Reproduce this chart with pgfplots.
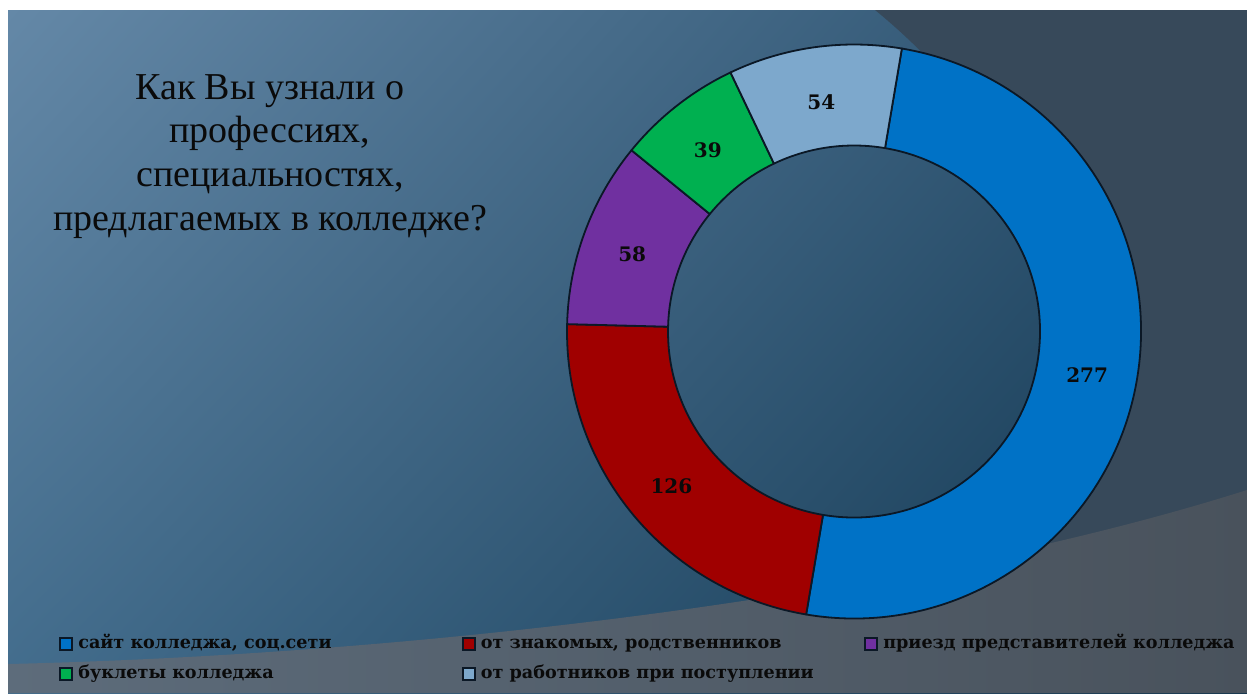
\documentclass[border=0pt]{standalone}
\usepackage{pgfplots}
\usepackage{pgfplotstable}
\pgfplotsset{compat=1.18}
\usetikzlibrary{shadings}
\usepackage{fontspec}
\setmainfont{Liberation Serif}
\newfontfamily\djs{DejaVu Serif}

\definecolor{cBlue}{HTML}{0072C6}
\definecolor{cRed}{HTML}{A00000}
\definecolor{cPurple}{HTML}{7030A0}
\definecolor{cGreen}{HTML}{00B050}
\definecolor{cLight}{HTML}{7DA8CC}
\definecolor{cEdge}{HTML}{0B1826}
\definecolor{bgUL}{HTML}{6488A7}
\definecolor{bgUR}{HTML}{294F6C}
\definecolor{bgLL}{HTML}{426C8C}
\definecolor{bgLR}{HTML}{10344D}
\definecolor{bgDark}{HTML}{37495A}
\definecolor{bandL}{HTML}{5D6C7B}
\definecolor{bandR}{HTML}{49525C}
\definecolor{txt}{HTML}{0A0A0A}

\pgfplotstableread{
value color
277 cBlue
126 cRed
58 cPurple
39 cGreen
54 cLight
}\donutdata

\newcommand\lblfont{\djs\fontsize{10}{12}\selectfont\bfseries}
\newcommand\legfont{\djs\fontsize{8.8}{10}\selectfont\bfseries}

\begin{document}
\begin{tikzpicture}
\begin{axis}[
  hide axis, scale only axis,
  width=623.5pt, height=346.5pt,
  xmin=0, xmax=1247, ymin=-693, ymax=0,
  clip=false,
  legend columns=3,
  legend cell align=left,
  legend image code/.code={\path[draw=none, fill=none] (0pt,0pt) -- (8.2pt,0pt);
    \draw[#1, draw=cEdge, line width=0.9pt] (0pt,-3pt) rectangle (6pt,3pt);},
  legend style={at={(axis cs:53,-629)}, anchor=north west, draw=none, fill=none,
    font=\legfont, text=txt, row sep=4.3pt,
    nodes={inner sep=0.8pt, text height=1.5ex, text depth=0.45ex},
    /tikz/every even column/.append style={column sep=0pt}},
]
% background
\fill[white] (axis cs:0,-693) rectangle (axis cs:1247,0);
\shade[upper left=bgUL, upper right=bgUR, lower left=bgLL, lower right=bgLR]
  (axis cs:8,-693) rectangle (axis cs:1247,-10);
\fill[bgDark] (axis cs:875,-10) .. controls (axis cs:1010,-120) and (axis cs:1110,-300) .. (axis cs:1060,-480)
  -- (axis cs:960,-693) -- (axis cs:1247,-693) -- (axis cs:1247,-10) -- cycle;
\shade[left color=bandL, right color=bandR] (axis cs:8,-664) .. controls (axis cs:400,-655) and (axis cs:900,-600) .. (axis cs:1247,-490)
  -- (axis cs:1247,-693) -- (axis cs:8,-693) -- cycle;

% legend images
\addlegendimage{fill=cBlue}
\addlegendentry{\makebox[191pt][l]{сайт колледжа, соц.сети}}
\addlegendimage{fill=cRed}
\addlegendentry{\makebox[191pt][l]{от знакомых, родственников}}
\addlegendimage{fill=cPurple}
\addlegendentry{приезд представителей колледжа}
\addlegendimage{fill=cGreen}
\addlegendentry{буклеты колледжа}
\addlegendimage{fill=cLight}
\addlegendentry{от работников при поступлении}

% donut
\def\startangle{80.4}
\pgfplotstablegetrowsof{\donutdata}\pgfmathtruncatemacro{\lastrow}{\pgfplotsretval-1}
\def\total{0}
\pgfplotsforeachungrouped \i in {0,...,\lastrow}{%
  \pgfplotstablegetelem{\i}{value}\of\donutdata
  \pgfmathsetmacro{\total}{\total+\pgfplotsretval}%
}
\def\cum{0}
\pgfplotsforeachungrouped \i in {0,...,\lastrow}{%
  \pgfplotstablegetelem{\i}{value}\of\donutdata \let\val\pgfplotsretval
  \pgfplotstablegetelem{\i}{color}\of\donutdata \let\col\pgfplotsretval
  \pgfmathsetmacro{\aone}{\startangle-\cum/\total*360}%
  \pgfmathsetmacro{\atwo}{\startangle-(\cum+\val)/\total*360}%
  \pgfmathsetmacro{\amid}{(\aone+\atwo)/2}%
  \edef\cmd{%
    \noexpand\filldraw[fill=\col, draw=cEdge, line width=0.9pt, line join=round]
      ([shift={(\aone:143.5pt)}]axis cs:854,-331.5) arc[start angle=\aone, end angle=\atwo, radius=143.5pt]
      -- ([shift={(\atwo:93pt)}]axis cs:854,-331.5) arc[start angle=\atwo, end angle=\aone, radius=93pt] -- cycle;
    \noexpand\node[font=\noexpand\lblfont, text=txt] at ([shift={(\amid:118.25pt)}]axis cs:854,-336) {\val};
  }%
  \cmd
  \pgfmathsetmacro{\cum}{\cum+\val}%
}

% title
\node[anchor=north, align=center, inner sep=0pt, text=txt,
  font=\fontsize{19}{21.85}\selectfont] at (axis cs:270,-74)
  {Как Вы узнали о\\профессиях,\\специальностях,\\предлагаемых в колледже?};
\end{axis}
\end{tikzpicture}
\end{document}
